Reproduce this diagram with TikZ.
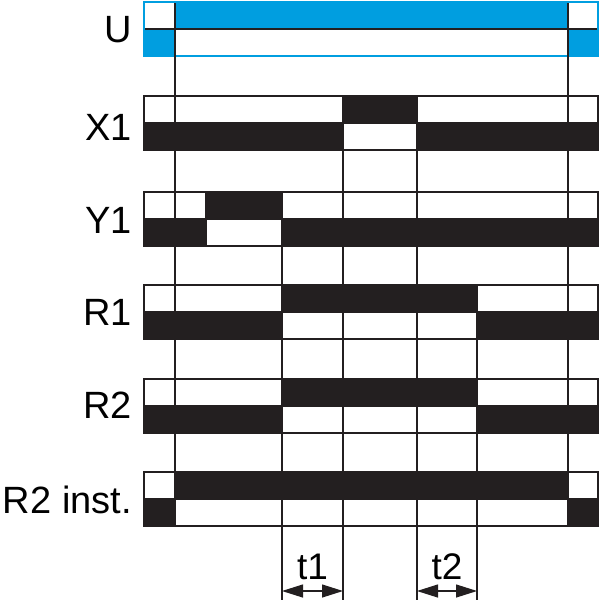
\documentclass[tikz,border=0pt]{standalone}
\usepackage{fontspec}
\setmainfont{Liberation Sans}
\usetikzlibrary{arrows.meta}
\definecolor{ublue}{RGB}{0,158,224}
\definecolor{sigblack}{RGB}{35,31,32}
\newcommand{\SigRow}[3]{%
  \fill[#2] (144,#1+27) rectangle (598,#1+54);
  \foreach \a/\b in {#3}{%
    \fill[#2] (\a,#1) rectangle (\b,#1+27);
    \fill[white] (\a,#1+27) rectangle (\b,#1+54);
    \draw[#2,grid] (\a,#1) -- (\a,#1+54) (\b,#1) -- (\b,#1+54);
  }%
  \draw[#2,grid] (144,#1+27) -- (598,#1+27);
  \draw[#2,sig] (144,#1) rectangle (598,#1+54);
}

\begin{document}
\begin{tikzpicture}[x=1pt,y=-1pt,
    sig/.style={line width=2pt},
    grid/.style={line width=1.4pt,sigblack},
    lbl/.style={anchor=base east,inner sep=0pt,font=\fontsize{38}{40}\selectfont},
    tlbl/.style={anchor=base,inner sep=0pt,font=\fontsize{37}{39}\selectfont},
    dim/.style={line width=1.2pt,sigblack,{Triangle[length=21pt,width=13pt]}-{Triangle[length=21pt,width=13pt]}}]
    \useasboundingbox (0,0) rectangle (600,600);
    \fill[white] (0,0) rectangle (600,600);

    \SigRow{2}{ublue}{175/568}
    \SigRow{96}{sigblack}{343/417}
    \SigRow{192}{sigblack}{206/282}
    \SigRow{285}{sigblack}{282/477}
    \SigRow{379}{sigblack}{282/477}
    \SigRow{472}{sigblack}{175/568}

    \node[lbl] (lU) at (132,42) {U};
    \node[lbl] (lX1) at (132,140) {X1};
    \node[lbl] (lY1) at (132,233) {Y1};
    \node[lbl] (lR1) at (132,325) {R1};
    \node[lbl] (lR2) at (132,418) {R2};
    \node[lbl] (lR2i) at (132,513) {R2 inst.};

    \coordinate (a1) at (175,54);  \coordinate (b1) at (175,472);
    \coordinate (a2) at (282,192); \coordinate (b2) at (282,600);
    \coordinate (a3) at (343,96);  \coordinate (b3) at (343,600);
    \coordinate (a4) at (417,96);  \coordinate (b4) at (417,600);
    \coordinate (a5) at (477,285); \coordinate (b5) at (477,600);
    \coordinate (a6) at (568,54);  \coordinate (b6) at (568,472);
    \foreach \i in {1,...,6}
        \draw[grid] (a\i) -- (b\i);

    \coordinate (d1) at (282,591);
    \coordinate (d2) at (343,591);
    \coordinate (d3) at (417,591);
    \coordinate (d4) at (477,591);
    \draw[dim] (d1) -- (d2);
    \draw[dim] (d3) -- (d4);
    \node[tlbl] (t1) at (312.5,579) {t1};
    \node[tlbl] (t2) at (447,579) {t2};
\end{tikzpicture}
\end{document}
